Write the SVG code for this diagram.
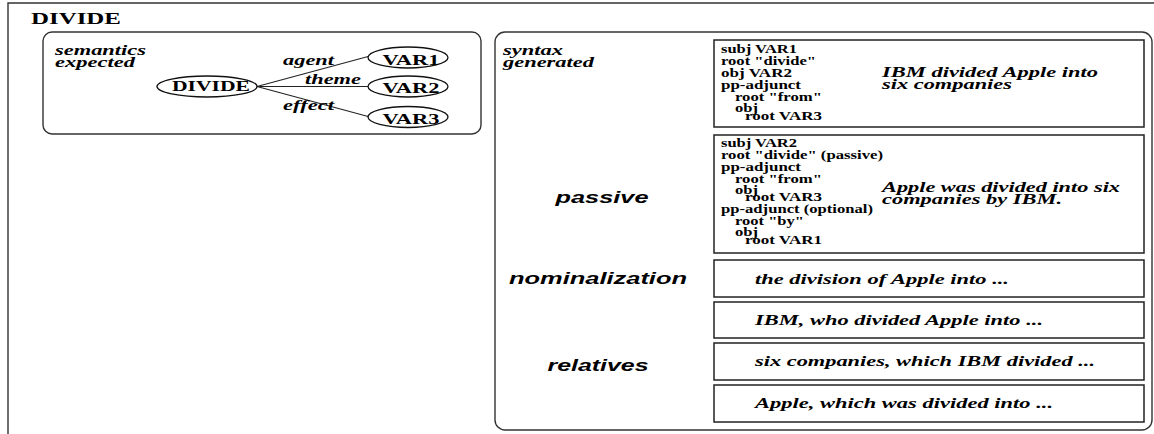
<svg xmlns="http://www.w3.org/2000/svg" width="1154" height="434" viewBox="0 0 1154 434">
<style>
.frame{fill:none;stroke:#333;stroke-width:1.4}
.box{fill:#fff;stroke:#222;stroke-width:1.5}
.ell{fill:#fff;stroke:#111;stroke-width:1.3}
.edge{stroke:#222;stroke-width:1.1;fill:none}
text{fill:#000}
.bi{font-family:"Liberation Serif","Times New Roman",serif;font-weight:bold;font-style:italic;font-size:14.5px}
.code{font-family:"Liberation Serif","Times New Roman",serif;font-weight:bold;font-size:11.5px}
.nd{font-family:"Liberation Serif","Times New Roman",serif;font-weight:bold;font-size:14.5px}
.title{font-family:"Liberation Serif","Times New Roman",serif;font-weight:bold;font-size:16.5px}
.sans{font-family:"Liberation Sans",Arial,sans-serif;font-weight:bold;font-style:italic;font-size:17px}
</style>
<rect width="1154" height="434" fill="#fff"/>
<g id="outer-frame">
<path class="frame" d="M1154,3 H8 V434"/>
<text class="title" x="31" y="24" textLength="90" lengthAdjust="spacingAndGlyphs">DIVIDE</text>
</g>
<g id="semantics-panel">
<rect class="frame" x="43" y="32" width="438" height="102" rx="9"/>
<text class="bi" x="55" y="55" textLength="91" lengthAdjust="spacingAndGlyphs">semantics</text>
<text class="bi" x="55" y="67" textLength="80" lengthAdjust="spacingAndGlyphs">expected</text>
</g>
<g id="connectors">
<line class="edge" x1="257" y1="86.5" x2="370" y2="56"/>
<line class="edge" x1="257" y1="86.5" x2="368" y2="86.5"/>
<line class="edge" x1="257" y1="86.5" x2="370" y2="117"/>
<text class="bi" x="283" y="65" textLength="51" lengthAdjust="spacingAndGlyphs">agent</text>
<text class="bi" x="305" y="84" textLength="56" lengthAdjust="spacingAndGlyphs">theme</text>
<text class="bi" x="283" y="110" textLength="51" lengthAdjust="spacingAndGlyphs">effect</text>
</g>
<g id="node-divide">
<ellipse class="ell" cx="207" cy="86.5" rx="50" ry="10.5"/>
<text class="nd" x="211" y="91" text-anchor="middle" textLength="78" lengthAdjust="spacingAndGlyphs">DIVIDE</text>
</g>
<g id="node-var1">
<ellipse class="ell" cx="408" cy="57.5" rx="40" ry="10.5"/>
<text class="nd" x="411" y="65" text-anchor="middle" textLength="57" lengthAdjust="spacingAndGlyphs">VAR1</text>
</g>
<g id="node-var2">
<ellipse class="ell" cx="408" cy="86.5" rx="40" ry="10.5"/>
<text class="nd" x="411" y="93" text-anchor="middle" textLength="57" lengthAdjust="spacingAndGlyphs">VAR2</text>
</g>
<g id="node-var3">
<ellipse class="ell" cx="408" cy="117" rx="40" ry="10.5"/>
<text class="nd" x="411" y="124" text-anchor="middle" textLength="57" lengthAdjust="spacingAndGlyphs">VAR3</text>
</g>
<g id="syntax-panel">
<rect class="frame" x="495" y="32" width="657" height="398" rx="10"/>
<text class="bi" x="503" y="55" textLength="60" lengthAdjust="spacingAndGlyphs">syntax</text>
<text class="bi" x="503" y="67" textLength="91" lengthAdjust="spacingAndGlyphs">generated</text>
<text class="sans" x="602" y="203" text-anchor="middle" textLength="93" lengthAdjust="spacingAndGlyphs">passive</text>
<text class="sans" x="598" y="284" text-anchor="middle" textLength="178" lengthAdjust="spacingAndGlyphs">nominalization</text>
<text class="sans" x="598" y="371" text-anchor="middle" textLength="101" lengthAdjust="spacingAndGlyphs">relatives</text>
</g>
<g id="active-box">
<rect class="box" x="714" y="40" width="430" height="87"/>
<text class="code" x="721" y="53" textLength="76" lengthAdjust="spacingAndGlyphs">subj  VAR1</text>
<text class="code" x="721" y="65" textLength="95" lengthAdjust="spacingAndGlyphs">root  "divide"</text>
<text class="code" x="721" y="77" textLength="71" lengthAdjust="spacingAndGlyphs">obj  VAR2</text>
<text class="code" x="721" y="89" textLength="80" lengthAdjust="spacingAndGlyphs">pp-adjunct</text>
<text class="code" x="735" y="101" textLength="87" lengthAdjust="spacingAndGlyphs">root  "from"</text>
<text class="code" x="735" y="112" textLength="23" lengthAdjust="spacingAndGlyphs">obj</text>
<text class="code" x="745" y="120" textLength="77" lengthAdjust="spacingAndGlyphs">root VAR3</text>
<text class="bi" x="882" y="77" textLength="216" lengthAdjust="spacingAndGlyphs">IBM divided Apple into</text>
<text class="bi" x="882" y="89" textLength="130" lengthAdjust="spacingAndGlyphs">six companies</text>
</g>
<g id="passive-box">
<rect class="box" x="714" y="135" width="430" height="118"/>
<text class="code" x="721" y="147" textLength="76" lengthAdjust="spacingAndGlyphs">subj  VAR2</text>
<text class="code" x="721" y="159" textLength="162" lengthAdjust="spacingAndGlyphs">root  "divide" (passive)</text>
<text class="code" x="721" y="171" textLength="80" lengthAdjust="spacingAndGlyphs">pp-adjunct</text>
<text class="code" x="735" y="183" textLength="87" lengthAdjust="spacingAndGlyphs">root  "from"</text>
<text class="code" x="735" y="194" textLength="23" lengthAdjust="spacingAndGlyphs">obj</text>
<text class="code" x="745" y="201" textLength="77" lengthAdjust="spacingAndGlyphs">root VAR3</text>
<text class="code" x="721" y="213" textLength="152" lengthAdjust="spacingAndGlyphs">pp-adjunct (optional)</text>
<text class="code" x="735" y="225" textLength="69" lengthAdjust="spacingAndGlyphs">root  "by"</text>
<text class="code" x="735" y="236" textLength="23" lengthAdjust="spacingAndGlyphs">obj</text>
<text class="code" x="745" y="244" textLength="77" lengthAdjust="spacingAndGlyphs">root VAR1</text>
<text class="bi" x="882" y="192" textLength="238" lengthAdjust="spacingAndGlyphs">Apple was divided into six</text>
<text class="bi" x="882" y="204" textLength="180" lengthAdjust="spacingAndGlyphs">companies by IBM.</text>
</g>
<g id="nominalization-box">
<rect class="box" x="714" y="260" width="430" height="37"/>
<text class="bi" x="755" y="284" textLength="254" lengthAdjust="spacingAndGlyphs">the division of Apple into ...</text>
</g>
<g id="relative-box-1">
<rect class="box" x="714" y="302" width="430" height="36"/>
<text class="bi" x="755" y="325" textLength="288" lengthAdjust="spacingAndGlyphs">IBM, who divided Apple into ...</text>
</g>
<g id="relative-box-2">
<rect class="box" x="714" y="343" width="430" height="37"/>
<text class="bi" x="755" y="366" textLength="340" lengthAdjust="spacingAndGlyphs">six companies, which IBM divided ...</text>
</g>
<g id="relative-box-3">
<rect class="box" x="714" y="385" width="430" height="37"/>
<text class="bi" x="755" y="408" textLength="298" lengthAdjust="spacingAndGlyphs">Apple, which was divided into ...</text>
</g>
</svg>
